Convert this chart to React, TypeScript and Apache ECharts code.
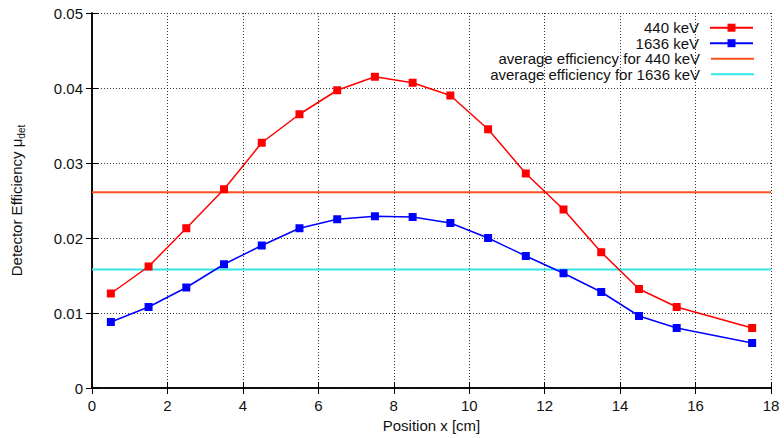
import React, { useEffect, useRef } from "react";
import * as echarts from "echarts";

// Source positions along the detector (cm)
const positions = [0.5, 1.5, 2.5, 3.5, 4.5, 5.5, 6.5, 7.5, 8.5, 9.5, 10.5, 11.5, 12.5, 13.5, 14.5, 15.5, 17.5];
// Measured detector efficiency at 440 keV
const eff440 = [0.0126, 0.0162, 0.0213, 0.0265, 0.0327, 0.0365, 0.0397, 0.0415, 0.0407, 0.039, 0.0345, 0.0286, 0.0238, 0.0181, 0.0132, 0.0108, 0.008];
// Measured detector efficiency at 1636 keV
const eff1636 = [0.0088, 0.0108, 0.0134, 0.0165, 0.019, 0.0213, 0.0225, 0.0229, 0.0228, 0.022, 0.02, 0.0176, 0.0153, 0.0128, 0.0096, 0.008, 0.006];
// Position-averaged efficiencies
const avg440 = 0.0261;
const avg1636 = 0.0158;
// Axis ranges
const xRange = [0, 18];
const yRange = [0, 0.05];

const FONT = '"Liberation Sans", Arial, Helvetica, sans-serif';
const TEXT = "#111";

const seriesNames = ["440 keV", "1636 keV", "average efficiency for 440 keV", "average efficiency for 1636 keV"];
const seriesColors = ["#ff0000", "#0000ff", "#ff5020", "#30e8e8"];
const legendCenters = [27.2, 42.7, 58.2, 73.7];

export default function App() {
  const ref = useRef<HTMLDivElement>(null);

  useEffect(() => {
    if (!ref.current) return;
    const chart = echarts.init(ref.current, undefined, { renderer: "svg" });

    const frameLine = { show: true, lineStyle: { color: "#000", width: 1.5 } };
    const innerTick = { show: true, inside: true, length: 6, lineStyle: { color: "#000", width: 1 } };
    const dotted = { show: true, lineStyle: { color: "#000", width: 0.8, type: [1, 2] as any } };

    // one right-aligned legend per row: text on the left, sample on the right
    const legends = seriesNames.map((name, i) => {
      const plain = i >= 2;
      return {
        data: plain ? [{ name, icon: "rect" }] : [name],
        right: 30,
        top: legendCenters[i] - 7,
        orient: "vertical",
        align: "right",
        padding: 0,
        itemWidth: 43,
        itemHeight: plain ? 2 : 10,
        selectedMode: false,
        itemStyle: { color: seriesColors[i] },
        lineStyle: { color: seriesColors[i] },
        textStyle: { fontFamily: FONT, fontSize: 15, lineHeight: 14, color: TEXT, padding: [0, 6, 0, 0] },
      };
    });

    chart.setOption({
      animation: false,
      backgroundColor: "#fff",
      textStyle: { fontFamily: FONT },
      grid: { left: 92, right: 13, top: 13, bottom: 50, containLabel: false },
      legend: legends,
      xAxis: [
        {
          type: "value",
          min: xRange[0],
          max: xRange[1],
          interval: 2,
          position: "bottom",
          name: "Position x [cm]",
          nameLocation: "middle",
          nameGap: 30,
          nameTextStyle: { fontFamily: FONT, fontSize: 15, color: TEXT },
          axisLine: frameLine,
          axisTick: innerTick,
          axisLabel: { fontFamily: FONT, fontSize: 15, color: TEXT, margin: 10 },
          splitLine: dotted,
        },
        {
          type: "value",
          min: xRange[0],
          max: xRange[1],
          interval: 2,
          position: "top",
          axisLine: frameLine,
          axisTick: innerTick,
          axisLabel: { show: false },
          splitLine: { show: false },
        },
      ],
      yAxis: [
        {
          type: "value",
          min: yRange[0],
          max: yRange[1],
          interval: 0.01,
          position: "left",
          name: "{a|Detector Efficiency μ}{b|det}",
          nameLocation: "middle",
          nameGap: 68,
          nameTextStyle: {
            rich: {
              a: { fontFamily: FONT, fontSize: 15, color: TEXT, lineHeight: 15, verticalAlign: "top" },
              b: { fontFamily: FONT, fontSize: 10, color: TEXT, lineHeight: 10, verticalAlign: "top", padding: [7, 0, 0, 0] },
            },
          },
          axisLine: frameLine,
          axisTick: innerTick,
          axisLabel: { fontFamily: FONT, fontSize: 15, color: TEXT, margin: 9 },
          splitLine: dotted,
        },
        {
          type: "value",
          min: yRange[0],
          max: yRange[1],
          interval: 0.01,
          position: "right",
          axisLine: frameLine,
          axisTick: innerTick,
          axisLabel: { show: false },
          splitLine: { show: false },
        },
      ],
      series: [
        {
          name: seriesNames[0],
          type: "line",
          data: positions.map((x, i) => [x, eff440[i]]),
          symbol: "rect",
          symbolSize: 8,
          itemStyle: { color: seriesColors[0] },
          lineStyle: { color: seriesColors[0], width: 1.5 },
          z: 4,
        },
        {
          name: seriesNames[1],
          type: "line",
          data: positions.map((x, i) => [x, eff1636[i]]),
          symbol: "rect",
          symbolSize: 8,
          itemStyle: { color: seriesColors[1] },
          lineStyle: { color: seriesColors[1], width: 1.5 },
          z: 4,
        },
        {
          name: seriesNames[2],
          type: "line",
          data: xRange.map((x) => [x, avg440]),
          symbol: "none",
          itemStyle: { color: seriesColors[2] },
          lineStyle: { color: seriesColors[2], width: 2 },
          z: 3,
        },
        {
          name: seriesNames[3],
          type: "line",
          data: xRange.map((x) => [x, avg1636]),
          symbol: "none",
          itemStyle: { color: seriesColors[3] },
          lineStyle: { color: seriesColors[3], width: 2 },
          z: 3,
        },
      ],
    });

    return () => chart.dispose();
  }, []);

  return (
    <div
      ref={ref}
      style={{ position: "fixed", left: 0, top: 0, width: 784, height: 438, background: "#fff" }}
    />
  );
}
